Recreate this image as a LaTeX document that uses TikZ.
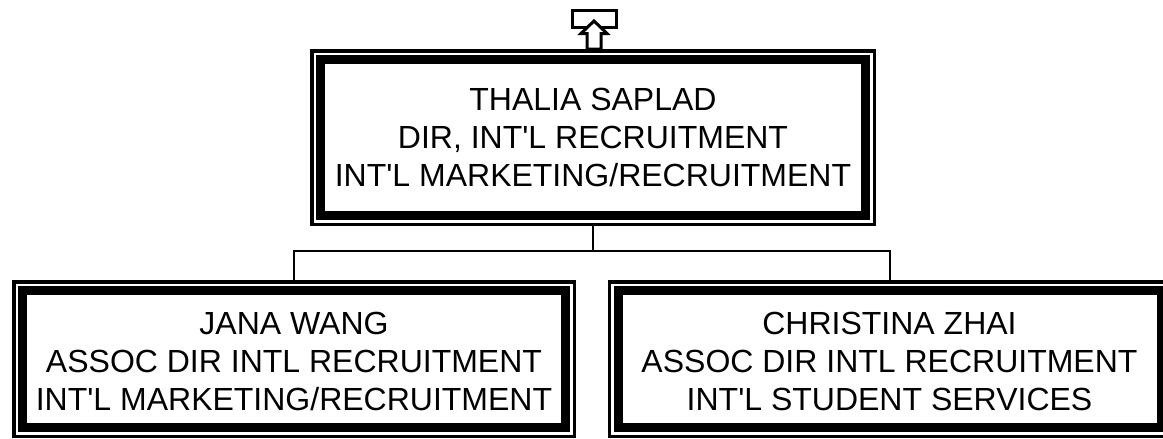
\documentclass[tikz,border=0pt]{standalone}
\usepackage{fontspec}
\setmainfont{Liberation Sans}
\tikzset{
  outerframe/.style={draw=black, line width=3.5pt, inner sep=0pt, fill=white},
  innerframe/.style={draw=black, line width=9pt, inner sep=0pt},
  label text/.style={inner sep=0pt, align=center, font=\fontsize{32}{38}\selectfont},
  conn/.style={draw=black, line width=2pt},
  icon/.style={draw=black, line width=3pt, fill=white, line join=miter}
}
\begin{document}
\begin{tikzpicture}[x=1pt,y=-1pt]
\useasboundingbox (0,0) rectangle (1163,439);
% top box
\node[outerframe, minimum width=562.5pt, minimum height=173.5pt] (topouter) at (593,137.5) {};
\node[innerframe, minimum width=545pt, minimum height=156pt] (topinner) at (593,137.5) {};
\node[label text] (toptext) at (593,137.5)
  {THALIA SAPLAD\\DIR, INT\textquotesingle L RECRUITMENT\\INT\textquotesingle L MARKETING/RECRUITMENT};
% bottom-left box
\node[outerframe, minimum width=560.5pt, minimum height=154.5pt] (blouter) at (294,359) {};
\node[innerframe, minimum width=543pt, minimum height=137pt] (blinner) at (294,359) {};
\node[label text] (bltext) at (294,361.5)
  {JANA WANG\\ASSOC DIR INTL RECRUITMENT\\INT\textquotesingle L MARKETING/RECRUITMENT};
% bottom-right box
\node[outerframe, minimum width=560.5pt, minimum height=154.5pt] (brouter) at (889.5,359) {};
\node[innerframe, minimum width=543pt, minimum height=137pt] (brinner) at (889.5,359) {};
\node[label text] (brtext) at (889.5,361.5)
  {CHRISTINA ZHAI\\ASSOC DIR INTL RECRUITMENT\\INT\textquotesingle L STUDENT SERVICES};
% connectors
\coordinate (bus) at (0,251);
\draw[conn] (topouter.south) -- (topouter.south |- bus) -| (blouter.north);
\draw[conn] (topouter.south |- bus) -| (brouter.north);
% up-arrow icon
\draw[icon] (572.5,10.5) rectangle (616.5,27.5);
\draw[icon] (594,21) -- (581,33.5) -- (587,33.5) -- (587,49) -- (601,49) -- (601,33.5) -- (607,33.5) -- cycle;
\end{tikzpicture}
\end{document}
